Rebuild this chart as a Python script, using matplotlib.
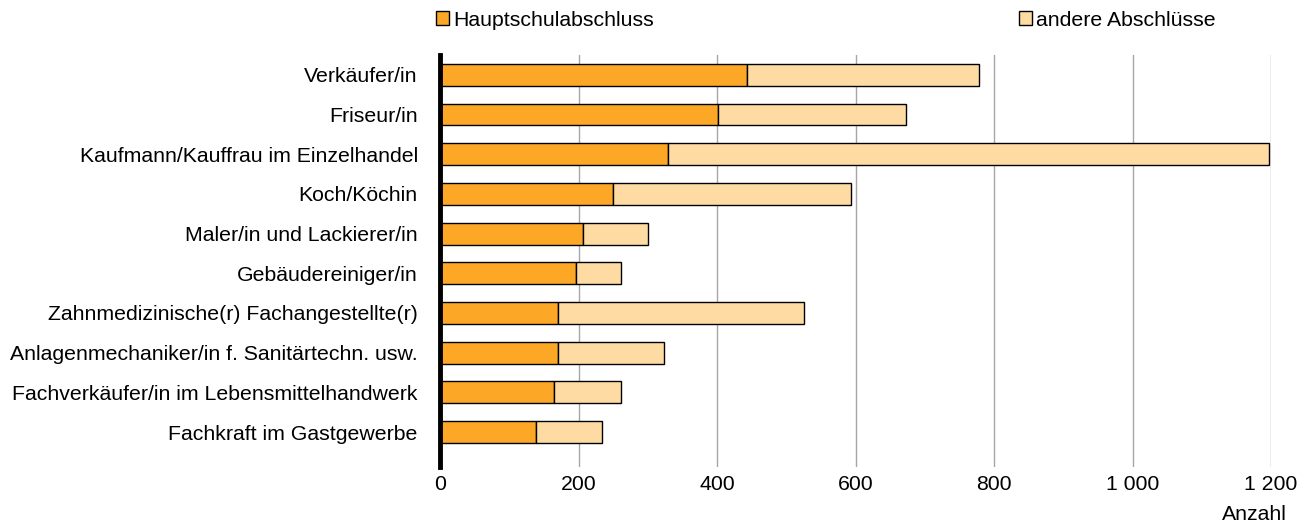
import matplotlib
matplotlib.use("Agg")
from matplotlib import pyplot as plt
from matplotlib.patches import Patch
from matplotlib.ticker import FuncFormatter

plt.rcParams['font.family'] = ['Liberation Sans', 'DejaVu Sans']

berufe = ["Verkäufer/in", "Friseur/in", "Kaufmann/Kauffrau im Einzelhandel",
          "Koch/Köchin", "Maler/in und Lackierer/in", "Gebäudereiniger/in",
          "Zahnmedizinische(r) Fachangestellte(r)",
          "Anlagenmechaniker/in f. Sanitärtechn. usw.",
          "Fachverkäufer/in im Lebensmittelhandwerk", "Fachkraft im Gastgewerbe"]
hauptschule = [443, 402, 329, 250, 206, 196, 171, 171, 165, 139]
gesamt = [778, 673, 1197, 594, 300, 261, 525, 324, 262, 234]
andere = [g - h for g, h in zip(gesamt, hauptschule)]

c_haupt = "#FCA726"
c_andere = "#FFDBA4"
fs = 15.3

fig = plt.figure(figsize=(13.1, 5.27), dpi=100)
ax = fig.add_axes([440/1310, 1-467/527, (1271-440)/1310, (467-55)/527])

y = range(len(berufe))
ax.barh(y, hauptschule, height=0.55, color=c_haupt, edgecolor="black", linewidth=1, zorder=3)
ax.barh(y, andere, left=hauptschule, height=0.55, color=c_andere, edgecolor="black", linewidth=1, zorder=3)

ax.set_xlim(0, 1200)
ax.set_ylim(9.88, -0.5)
ax.set_yticks(list(y))
ax.set_yticklabels(berufe, fontsize=fs)
ax.set_xticks(range(0, 1201, 200))
ax.xaxis.set_major_formatter(FuncFormatter(lambda v, p: f"{int(v):,}".replace(",", " ")))
ax.tick_params(axis='x', labelsize=fs, length=0, pad=6)
ax.tick_params(axis='y', length=0, pad=16)
ax.grid(axis='x', color="#a6a6a6", linewidth=1, zorder=0)

for s in ["top", "right", "bottom"]:
    ax.spines[s].set_visible(False)
ax.spines["left"].set_linewidth(3.5)
ax.spines["left"].set_zorder(5)

fig.text(1287/1310, 1-514/527, "Anzahl", fontsize=fs, ha="right", va="center")

handles = [Patch(facecolor=c_haupt, edgecolor="black"), Patch(facecolor=c_andere, edgecolor="black")]
fig.legend(handles, ["Hauptschulabschluss", "andere Abschlüsse"], ncol=2,
           loc="center left", bbox_to_anchor=(436/1310, 1-20/527), frameon=False,
           fontsize=fs, handlelength=0.6, handleheight=0.6, handletextpad=0.2,
           columnspacing=17.2, borderpad=0, borderaxespad=0)

fig.savefig("out.png", dpi=100)
